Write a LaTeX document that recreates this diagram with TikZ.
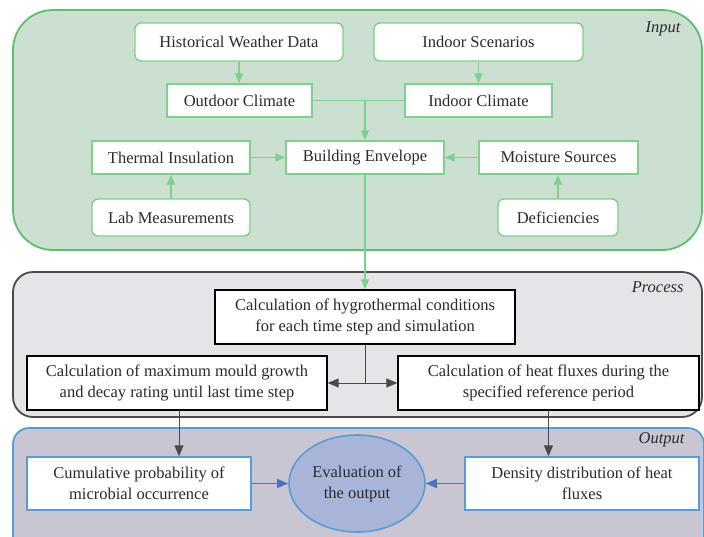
\documentclass[tikz,border=0pt]{standalone}
\usepackage{fontspec}
\setmainfont{Liberation Serif}
\newfontfamily\diagfont{Liberation Serif}
\usetikzlibrary{arrows.meta,shapes.geometric}

\definecolor{inFill}{HTML}{CCE0D2}
\definecolor{inLine}{HTML}{5CBF6B}
\definecolor{boxGreen}{HTML}{7FD08B}
\definecolor{prFill}{HTML}{E5E4E9}
\definecolor{prLine}{HTML}{4A4A4A}
\definecolor{outFill}{HTML}{C7C6D2}
\definecolor{outLine}{HTML}{5B9BD5}
\definecolor{evFill}{HTML}{A9B4D9}
\definecolor{arrBlue}{HTML}{4A72C0}
\definecolor{txt}{HTML}{2A2A2A}

\tikzset{
  panel/.style={line width=1.8pt},
  txtfont/.style={font=\diagfont\fontsize{16.5}{21}\selectfont, text=txt, align=center},
  gbox/.style={txtfont, draw=boxGreen, fill=white, line width=1.4pt, inner sep=0pt},
  gboxr/.style={gbox, rounded corners=6pt},
  pbox/.style={txtfont, draw=black, fill=white, line width=1.3pt, inner sep=0pt},
  obox/.style={txtfont, draw=outLine, fill=white, line width=1.4pt, inner sep=0pt},
  gline/.style={draw=boxGreen, line width=1.4pt},
  garrow/.style={gline, -{Triangle[length=10pt,width=8pt]}},
  barrow/.style={draw=prLine, line width=1pt, -{Triangle[length=11pt,width=9pt]}},
  uarrow/.style={draw=arrBlue, line width=1.6pt, -{Triangle[length=11pt,width=9pt]}},
  tag/.style={font=\diagfont\fontsize{16.5}{20}\selectfont\itshape, text=txt, anchor=east},
}

\begin{document}
\begin{tikzpicture}[x=1pt,y=-1pt]
\useasboundingbox (0,0) rectangle (704,536);

% panels
\begin{scope}
\clip (0,0) rectangle (704,536);
\draw[panel, draw=inLine, fill=inFill, rounded corners=40pt] (13,10) rectangle (702,250);
\draw[panel, draw=prLine, fill=prFill, rounded corners=20pt] (13,272) rectangle (702,417);
\draw[panel, draw=outLine, fill=outFill, rounded corners=16pt] (13,428) rectangle (704,560);
\end{scope}

\node[tag] (inTag)  at (684,29)  {Input};
\node[tag] (prTag)  at (687,287) {Process};
\node[tag] (outTag) at (688,440) {Output};

% input boxes
\node[gboxr, minimum width=208pt, minimum height=38pt] (hist)  at (239,42)    {Historical Weather Data};
\node[gboxr, minimum width=209pt, minimum height=38pt] (indsc) at (478.5,42)  {Indoor Scenarios};
\node[gbox,  minimum width=145pt, minimum height=33pt] (outc)  at (239.5,100.5) {Outdoor Climate};
\node[gbox,  minimum width=147pt, minimum height=33pt] (indc)  at (478.5,100.5) {Indoor Climate};
\node[gbox,  minimum width=158pt, minimum height=33pt] (therm) at (171,157.5) {Thermal Insulation};
\node[gbox,  minimum width=158pt, minimum height=33pt] (build) at (365,157.5) {Building Envelope};
\node[gbox,  minimum width=159pt, minimum height=33pt] (moist) at (558.5,157.5) {Moisture Sources};
\node[gboxr, minimum width=158pt, minimum height=37pt] (lab)   at (171,217.5) {Lab Measurements};
\node[gboxr, minimum width=120pt, minimum height=37pt] (defi)  at (558,217.5) {Deficiencies};

% process boxes
\node[pbox, minimum width=300pt, minimum height=54pt] (hyg)   at (365,317)   {Calculation of hygrothermal conditions\\for each time step and simulation};
\node[pbox, minimum width=300pt, minimum height=54pt] (mould) at (177,383)   {Calculation of maximum mould growth\\and decay rating until last time step};
\node[pbox, minimum width=301pt, minimum height=54pt] (heat)  at (548.5,383) {Calculation of heat fluxes during the\\specified reference period};

% output boxes
\node[obox, minimum width=224pt, minimum height=53pt] (cum)  at (139,483.5) {Cumulative probability of\\microbial occurrence};
\node[obox, minimum width=234pt, minimum height=53pt] (dens) at (582,483.5) {Density distribution of heat\\fluxes};
\node[txtfont, ellipse, draw=outLine, fill=evFill, line width=1.6pt,
      minimum width=136pt, minimum height=97pt, inner sep=0pt] (eval) at (357,483.5) {Evaluation of\\the output};

% input connectors
\draw[garrow] (hist.south) -- (hist.south |- outc.north);
\draw[garrow] (indsc.south) -- (indsc.south |- indc.north);
\draw[gline] (outc.east) -- (indc.west);
\coordinate (join) at (build.north |- outc.east);
\draw[garrow] (join) -- (build.north);
\draw[garrow] (therm.east) -- (build.west);
\draw[garrow] (moist.west) -- (build.east);
\draw[garrow] (lab.north) -- (therm.south);
\draw[garrow] (defi.north) -- (defi.north |- moist.south);
\draw[garrow] (build.south) -- (hyg.north);

% process connectors
\coordinate (split) at (hyg.south |- mould.east);
\draw[draw=prLine, line width=1pt] (hyg.south) -- (split);
\draw[barrow] (split) -- (mould.east);
\draw[barrow] (split) -- (heat.west);
\draw[barrow] ([xshift=2pt]mould.south) -- ([xshift=2pt]mould.south |- cum.north);
\draw[barrow] (heat.south) -- (heat.south |- dens.north);

% output connectors
\draw[uarrow] (cum.east) -- (eval.west);
\draw[uarrow] (dens.west) -- (eval.east);
\end{tikzpicture}
\end{document}
